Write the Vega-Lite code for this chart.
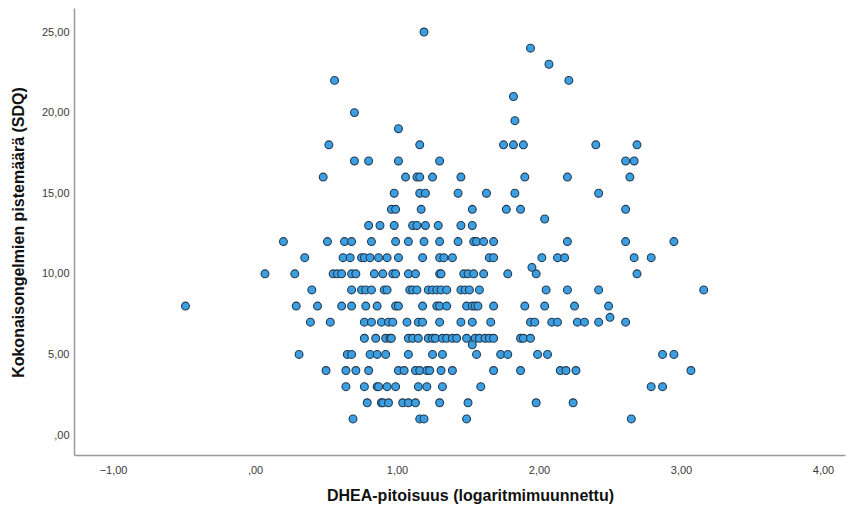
{
  "$schema": "https://vega.github.io/schema/vega-lite/v6.json",
  "width": 771,
  "height": 447,
  "autosize": {"type": "none"},
  "padding": {"left": 74, "top": 8, "right": 7, "bottom": 55},
  "background": "white",
  "config": {"view": {"stroke": null}, "font": "Liberation Sans"},
  "data": {"values": [
    {"x":1.19,"y":25},{"x":1.94,"y":24},{"x":2.07,"y":23},{"x":0.56,"y":22},{"x":2.21,"y":22},{"x":1.82,"y":21},{"x":0.70,"y":20},{"x":1.83,"y":19.5},{"x":1.01,"y":19},
    {"x":0.52,"y":18},{"x":1.16,"y":18},{"x":1.75,"y":18},{"x":1.82,"y":18},{"x":1.89,"y":18},{"x":2.40,"y":18},{"x":2.69,"y":18},
    {"x":0.70,"y":17},{"x":0.80,"y":17},{"x":1.01,"y":17},{"x":1.30,"y":17},{"x":2.61,"y":17},{"x":2.67,"y":17},
    {"x":0.48,"y":16},{"x":1.06,"y":16},{"x":1.14,"y":16},{"x":1.16,"y":16},{"x":1.25,"y":16},{"x":1.45,"y":16},{"x":1.90,"y":16},{"x":2.20,"y":16},{"x":2.64,"y":16},
    {"x":0.98,"y":15},{"x":1.16,"y":15},{"x":1.20,"y":15},{"x":1.43,"y":15},{"x":1.63,"y":15},{"x":1.83,"y":15},{"x":2.42,"y":15},
    {"x":0.96,"y":14},{"x":0.99,"y":14},{"x":1.17,"y":14},{"x":1.53,"y":14},{"x":1.77,"y":14},{"x":1.87,"y":14},{"x":2.61,"y":14},
    {"x":2.04,"y":13.4},
    {"x":0.80,"y":13},{"x":0.88,"y":13},{"x":0.98,"y":13},{"x":1.11,"y":13},{"x":1.14,"y":13},{"x":1.20,"y":13},{"x":1.29,"y":13},{"x":1.45,"y":13},{"x":1.53,"y":13},
    {"x":0.20,"y":12},{"x":0.51,"y":12},{"x":0.63,"y":12},{"x":0.68,"y":12},{"x":0.82,"y":12},{"x":0.99,"y":12},{"x":1.08,"y":12},{"x":1.19,"y":12},{"x":1.30,"y":12},{"x":1.43,"y":12},{"x":1.54,"y":12},{"x":1.56,"y":12},{"x":1.61,"y":12},{"x":1.68,"y":12},{"x":2.20,"y":12},{"x":2.61,"y":12},{"x":2.95,"y":12},
    {"x":0.35,"y":11},{"x":0.62,"y":11},{"x":0.67,"y":11},{"x":0.75,"y":11},{"x":0.77,"y":11},{"x":0.81,"y":11},{"x":0.87,"y":11},{"x":0.93,"y":11},{"x":1.01,"y":11},{"x":1.18,"y":11},{"x":1.30,"y":11},{"x":1.33,"y":11},{"x":1.39,"y":11},{"x":1.65,"y":11},{"x":1.68,"y":11},{"x":2.02,"y":11},{"x":2.13,"y":11},{"x":2.18,"y":11},{"x":2.67,"y":11},{"x":2.79,"y":11},
    {"x":0.07,"y":10},{"x":0.28,"y":10},{"x":0.55,"y":10},{"x":0.58,"y":10},{"x":0.61,"y":10},{"x":0.68,"y":10},{"x":0.71,"y":10},{"x":0.84,"y":10},{"x":0.90,"y":10},{"x":0.97,"y":10},{"x":0.99,"y":10},{"x":1.08,"y":10},{"x":1.13,"y":10},{"x":1.30,"y":10},{"x":1.31,"y":10},{"x":1.47,"y":10},{"x":1.50,"y":10},{"x":1.54,"y":10},{"x":1.61,"y":10},{"x":1.78,"y":10},{"x":1.98,"y":10},{"x":2.69,"y":10},
    {"x":1.95,"y":10.4},
    {"x":0.40,"y":9},{"x":0.68,"y":9},{"x":0.75,"y":9},{"x":0.78,"y":9},{"x":0.82,"y":9},{"x":0.91,"y":9},{"x":0.93,"y":9},{"x":1.09,"y":9},{"x":1.11,"y":9},{"x":1.14,"y":9},{"x":1.22,"y":9},{"x":1.25,"y":9},{"x":1.28,"y":9},{"x":1.31,"y":9},{"x":1.35,"y":9},{"x":1.45,"y":9},{"x":1.48,"y":9},{"x":1.51,"y":9},{"x":1.58,"y":9},{"x":2.05,"y":9},{"x":2.20,"y":9},{"x":2.42,"y":9},{"x":3.16,"y":9},
    {"x":-0.49,"y":8},{"x":0.29,"y":8},{"x":0.44,"y":8},{"x":0.61,"y":8},{"x":0.68,"y":8},{"x":0.78,"y":8},{"x":0.86,"y":8},{"x":0.99,"y":8},{"x":1.01,"y":8},{"x":1.18,"y":8},{"x":1.28,"y":8},{"x":1.30,"y":8},{"x":1.35,"y":8},{"x":1.49,"y":8},{"x":1.53,"y":8},{"x":1.55,"y":8},{"x":1.57,"y":8},{"x":1.68,"y":8},{"x":1.90,"y":8},{"x":2.04,"y":8},{"x":2.25,"y":8},{"x":2.49,"y":8},
    {"x":2.50,"y":7.3},
    {"x":0.39,"y":7},{"x":0.53,"y":7},{"x":0.77,"y":7},{"x":0.82,"y":7},{"x":0.89,"y":7},{"x":0.94,"y":7},{"x":0.97,"y":7},{"x":1.07,"y":7},{"x":1.15,"y":7},{"x":1.18,"y":7},{"x":1.30,"y":7},{"x":1.45,"y":7},{"x":1.53,"y":7},{"x":1.66,"y":7},{"x":1.94,"y":7},{"x":1.97,"y":7},{"x":2.09,"y":7},{"x":2.13,"y":7},{"x":2.27,"y":7},{"x":2.32,"y":7},{"x":2.42,"y":7},{"x":2.61,"y":7},
    {"x":0.77,"y":6},{"x":0.85,"y":6},{"x":0.92,"y":6},{"x":0.95,"y":6},{"x":0.96,"y":6},{"x":1.08,"y":6},{"x":1.11,"y":6},{"x":1.15,"y":6},{"x":1.22,"y":6},{"x":1.25,"y":6},{"x":1.27,"y":6},{"x":1.32,"y":6},{"x":1.35,"y":6},{"x":1.39,"y":6},{"x":1.42,"y":6},{"x":1.49,"y":6},{"x":1.55,"y":6},{"x":1.58,"y":6},{"x":1.62,"y":6},{"x":1.65,"y":6},{"x":1.68,"y":6},{"x":1.87,"y":6},{"x":1.89,"y":6},{"x":1.94,"y":6},
    {"x":1.53,"y":5.6},
    {"x":0.31,"y":5},{"x":0.65,"y":5},{"x":0.68,"y":5},{"x":0.81,"y":5},{"x":0.86,"y":5},{"x":0.92,"y":5},{"x":1.08,"y":5},{"x":1.25,"y":5},{"x":1.32,"y":5},{"x":1.56,"y":5},{"x":1.73,"y":5},{"x":1.78,"y":5},{"x":1.99,"y":5},{"x":2.06,"y":5},{"x":2.87,"y":5},{"x":2.95,"y":5},
    {"x":0.50,"y":4},{"x":0.64,"y":4},{"x":0.71,"y":4},{"x":0.80,"y":4},{"x":1.01,"y":4},{"x":1.05,"y":4},{"x":1.13,"y":4},{"x":1.16,"y":4},{"x":1.21,"y":4},{"x":1.23,"y":4},{"x":1.31,"y":4},{"x":1.39,"y":4},{"x":1.68,"y":4},{"x":1.87,"y":4},{"x":2.15,"y":4},{"x":2.19,"y":4},{"x":2.26,"y":4},{"x":3.07,"y":4},
    {"x":0.64,"y":3},{"x":0.77,"y":3},{"x":0.86,"y":3},{"x":0.87,"y":3},{"x":0.93,"y":3},{"x":0.99,"y":3},{"x":1.15,"y":3},{"x":1.21,"y":3},{"x":1.32,"y":3},{"x":1.59,"y":3},{"x":2.79,"y":3},{"x":2.87,"y":3},
    {"x":0.79,"y":2},{"x":0.89,"y":2},{"x":0.90,"y":2},{"x":0.94,"y":2},{"x":1.04,"y":2},{"x":1.08,"y":2},{"x":1.13,"y":2},{"x":1.30,"y":2},{"x":1.50,"y":2},{"x":1.98,"y":2},{"x":2.24,"y":2},
    {"x":0.69,"y":1},{"x":1.16,"y":1},{"x":1.19,"y":1},{"x":1.49,"y":1},{"x":2.65,"y":1}
  ]},
  "mark": {"type": "circle", "size": 62, "fill": "#3b9fe2", "stroke": "#233b52", "strokeWidth": 1.1, "opacity": 1},
  "encoding": {
    "x": {
      "field": "x", "type": "quantitative",
      "scale": {"domain": [-1.275, 4.155], "nice": false, "zero": false},
      "axis": {
        "title": "DHEA-pitoisuus (logaritmimuunnettu)",
        "values": [-1, 0, 1, 2, 3, 4],
        "labelExpr": "datum.value == 0 ? ',00' : replace(format(datum.value, '.2f'), '.', ',')",
        "grid": false, "ticks": false,
        "domainColor": "#9a9a9a", "domainWidth": 1.5,
        "labelFont": "Liberation Sans", "labelFontSize": 11, "labelColor": "#3a3a3a", "labelPadding": 9,
        "titleFont": "Liberation Sans", "titleFontSize": 16, "titleFontWeight": "bold", "titleColor": "#111111",
        "titleX": 396, "titleY": 45, "titleBaseline": "alphabetic", "titleAlign": "center"
      }
    },
    "y": {
      "field": "y", "type": "quantitative",
      "scale": {"domain": [-1.24, 26.49], "nice": false, "zero": false},
      "axis": {
        "title": "Kokonaisongelmien pistemäärä (SDQ)",
        "values": [0, 5, 10, 15, 20, 25],
        "labelExpr": "datum.value == 0 ? ',00' : replace(format(datum.value, '.2f'), '.', ',')",
        "grid": false, "ticks": false,
        "domainColor": "#9a9a9a", "domainWidth": 1.5,
        "labelFont": "Liberation Sans", "labelFontSize": 11, "labelColor": "#3a3a3a", "labelPadding": 5,
        "titleFont": "Liberation Sans", "titleFontSize": 16, "titleFontWeight": "bold", "titleColor": "#111111",
        "titleX": -56, "titleY": 224, "titleAngle": -90, "titleBaseline": "middle", "titleAlign": "center"
      }
    }
  }
}
